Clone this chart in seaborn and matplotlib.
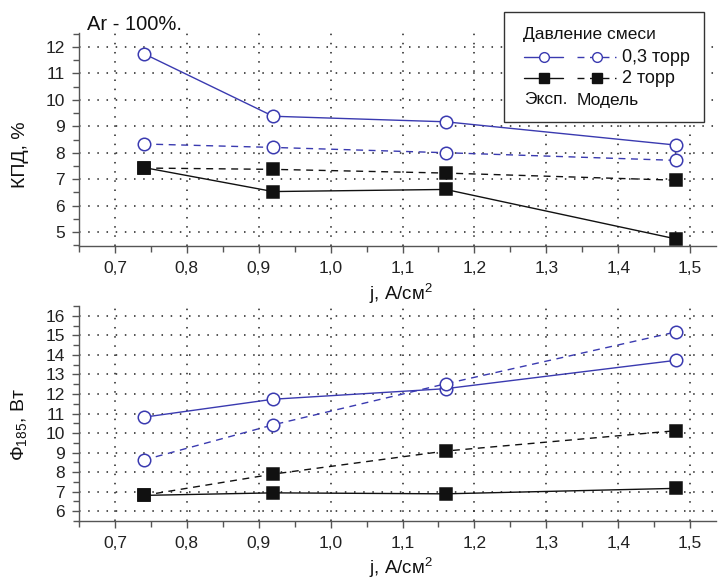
import matplotlib
matplotlib.use("Agg")
import matplotlib.pyplot as plt
import seaborn as sns
import numpy as np
import pandas as pd
from matplotlib.lines import Line2D
from matplotlib.patches import Rectangle

# ---- data ----
j = [0.74, 0.92, 1.16, 1.48]
eff_exp_03 = [11.75, 9.38, 9.17, 8.29]
eff_mod_03 = [8.33, 8.20, 8.00, 7.71]
eff_exp_2 = [7.44, 6.53, 6.61, 4.74]
eff_mod_2 = [7.42, 7.37, 7.23, 6.96]

flux_exp_03 = [10.81, 11.73, 12.27, 13.72]
flux_mod_03 = [8.62, 10.42, 12.52, 15.17]
flux_exp_2 = [6.81, 6.94, 6.89, 7.17]
flux_mod_2 = [6.81, 7.90, 9.08, 10.12]

x_ticks = [0.7, 0.8, 0.9, 1.0, 1.1, 1.2, 1.3, 1.4, 1.5]
x_tick_labels = ["0,7", "0,8", "0,9", "1,0", "1,1", "1,2", "1,3", "1,4", "1,5"]
eff_ticks = [5, 6, 7, 8, 9, 10, 11, 12]
flux_ticks = [6, 7, 8, 9, 10, 11, 12, 13, 14, 15, 16]

sns.set_theme(style="white")
plt.rcParams["font.family"] = ["Liberation Sans", "DejaVu Sans"]
plt.rcParams["mathtext.fontset"] = "custom"
plt.rcParams["mathtext.rm"] = "Liberation Sans"
plt.rcParams["mathtext.it"] = "Liberation Sans"

BLUE = "#3a3ab0"
BLACK = "#111111"
W, H = 718, 578

fig = plt.figure(figsize=(W / 100, H / 100), dpi=100)
fig.patch.set_facecolor("white")

def px_rect(left, top, right, bottom):
    return [left / W, 1 - bottom / H, (right - left) / W, (bottom - top) / H]

ax1 = fig.add_axes(px_rect(79, 33, 716, 246))
ax2 = fig.add_axes(px_rect(79, 306, 716, 521))

def draw(ax, y, color, ls, marker, ms):
    df = pd.DataFrame({"j": j, "v": y})
    if marker == "o":
        mfc, mec = "white", color
    else:
        mfc, mec = color, color
    sns.lineplot(data=df, x="j", y="v", ax=ax, color=color, linestyle=ls,
                 marker=marker, markersize=ms, markerfacecolor=mfc,
                 markeredgecolor=mec, markeredgewidth=1.1, linewidth=1.0,
                 dashes=False, zorder=3)

for ax, series in [
    (ax1, [(eff_exp_03, BLUE, "-", "o"), (eff_mod_03, BLUE, (0, (5, 4)), "o"),
           (eff_exp_2, BLACK, "-", "s"), (eff_mod_2, BLACK, (0, (5, 4)), "s")]),
    (ax2, [(flux_exp_03, BLUE, "-", "o"), (flux_mod_03, BLUE, (0, (5, 4)), "o"),
           (flux_exp_2, BLACK, "-", "s"), (flux_mod_2, BLACK, (0, (5, 4)), "s")]),
]:
    for y, c, ls, m in series:
        draw(ax, y, c, ls, m, 9 if m == "o" else 8)

def style(ax, yticks, ylim):
    ax.set_xlim(0.651, 1.536)
    ax.set_ylim(*ylim)
    ax.set_xticks(x_ticks)
    ax.set_xticklabels(x_tick_labels)
    ax.set_xticks(np.arange(0.65, 1.54, 0.05), minor=True)
    ax.set_yticks(yticks)
    ax.set_yticks(np.arange(yticks[0] - 0.5, yticks[-1] + 0.51, 0.5), minor=True)
    for s in ["top", "right"]:
        ax.spines[s].set_visible(False)
    for s in ["left", "bottom"]:
        ax.spines[s].set_color("#555555")
        ax.spines[s].set_linewidth(1.0)
    ax.tick_params(axis="x", which="major", pad=6)
    ax.tick_params(axis="y", which="major", pad=5)
    ax.tick_params(axis="both", which="major", direction="out", length=5,
                   width=1, color="#555555", labelsize=12.5, labelcolor="#222222",
                   bottom=True, left=True)
    ax.tick_params(axis="both", which="minor", direction="out", length=4,
                   width=1, color="#555555", bottom=True, left=True)
    ax.grid(True, which="major", color="#222222", linestyle=(0, (1, 5)),
            linewidth=1.1)
    ax.set_facecolor("white")
    ax.set_xlabel("j, A/см$^2$", fontsize=13.5, color="#111111")

style(ax1, eff_ticks, (4.47, 12.53))
style(ax2, flux_ticks, (6.0, 16.05))
ax1.set_ylabel("КПД, %", fontsize=14, color="#111111")
ax2.set_ylabel("Ф$_{185}$, Вт", fontsize=14, color="#111111")
ax1.yaxis.set_label_coords(-0.078, 0.43)
ax2.yaxis.set_label_coords(-0.078, 0.45)
ax1.xaxis.set_label_coords(0.505, -0.17)
ax2.xaxis.set_label_coords(0.505, -0.16)

fig.text(87 / W, 1 - 25 / H, "Ar - 100%.", fontsize=14.5, va="center", ha="left",
         color="#111111")

# ---- legend (manual) ----
def fx(x):
    return x / W

def fy(y):
    return 1 - y / H

fig.add_artist(Rectangle((fx(504), fy(122)), fx(704) - fx(504), (122 - 12) / H,
                         transform=fig.transFigure, facecolor="white",
                         edgecolor="#333333", linewidth=1.0, zorder=10))
fs = 12.5
fig.text(fx(523), fy(35), "Давление смеси", fontsize=fs, va="center", ha="left",
         color="#111111", zorder=11)
rows = [(57, BLUE, "o", "0,3 торр"), (78, BLACK, "s", "2 торр")]
for yy, c, m, lab in rows:
    mfc = "white" if m == "o" else c
    ms = 7 if m == "o" else 6.5
    fig.add_artist(Line2D([fx(524), fx(563)], [fy(yy), fy(yy)], color=c, lw=1.0,
                          transform=fig.transFigure, zorder=11))
    fig.add_artist(Line2D([fx(544)], [fy(yy)], color=c, marker=m, ms=ms,
                          markerfacecolor=mfc, markeredgecolor=c, lw=0,
                          transform=fig.transFigure, zorder=12))
    fig.add_artist(Line2D([fx(577), fx(616)], [fy(yy), fy(yy)], color=c, lw=1.0,
                          linestyle=(0, (5, 4)), transform=fig.transFigure, zorder=11))
    fig.add_artist(Line2D([fx(597)], [fy(yy)], color=c, marker=m, ms=ms,
                          markerfacecolor=mfc, markeredgecolor=c, lw=0,
                          transform=fig.transFigure, zorder=12))
    fig.text(fx(622), fy(yy), lab, fontsize=fs + 0.5, va="center", ha="left",
             color="#111111", zorder=11)
fig.text(fx(524), fy(100), "Эксп.", fontsize=fs, va="center", ha="left",
         color="#111111", zorder=11)
fig.text(fx(577), fy(100), "Модель", fontsize=fs, va="center", ha="left",
         color="#111111", zorder=11)

fig.savefig("out.png", dpi=100, facecolor="white")
